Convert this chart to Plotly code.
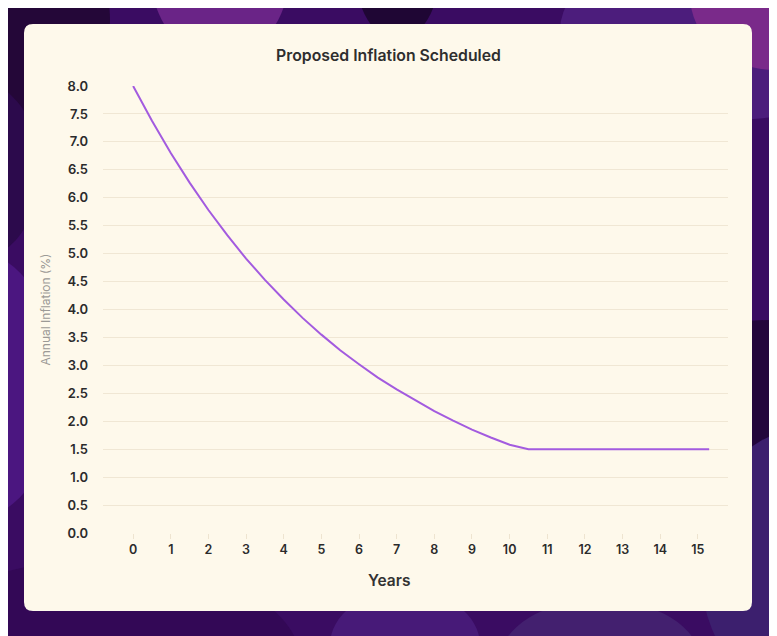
import plotly.graph_objects as go

# years since launch and annual inflation (%)
years = [0, 0.5, 1, 1.5, 2, 2.5, 3, 3.5, 4, 4.5, 5, 5.5, 6, 6.5, 7, 7.5,
         8, 8.5, 9, 9.5, 10, 10.5, 11, 12, 13, 14, 15, 15.3]
inflation = [8.0, 7.38, 6.80, 6.27, 5.78, 5.33, 4.91, 4.53, 4.18, 3.85, 3.55,
             3.27, 3.02, 2.78, 2.57, 2.37, 2.18, 2.01, 1.85, 1.71, 1.58, 1.50,
             1.50, 1.50, 1.50, 1.50, 1.50, 1.50]
x_ticks = list(range(0, 16))
y_ticks = [0, 0.5, 1, 1.5, 2, 2.5, 3, 3.5, 4, 4.5, 5, 5.5, 6, 6.5, 7, 7.5, 8]

W, H = 777, 636
OFF = 8  # page margin the figure sits inside
L, R, T, B = 103 - OFF, 728 - OFF, 86 - OFF, 533 - OFF  # plot area, px


def px(x):
    return (x - OFF - L) / (R - L)


def py(y):
    return (B - (y - OFF)) / (B - T)


def rounded(x0, y0, x1, y1, r):
    # rounded rectangle path in paper coords (screen px in)
    a, b, c, d = px(x0), px(x1), py(y0), py(y1)
    rx, ry = px(x0 + r) - a, py(y0) - py(y0 + r)
    return (f"M {a+rx},{c} L {b-rx},{c} Q {b},{c} {b},{c-ry} "
            f"L {b},{d+ry} Q {b},{d} {b-rx},{d} L {a+rx},{d} "
            f"Q {a},{d} {a},{d+ry} L {a},{c-ry} Q {a},{c} {a+rx},{c} Z")


shapes = []
# background blobs
blobs = [
    (-60, -80, 110, 120, "#240738"),
    (150, -120, 290, 60, "#6a2487"),
    (355, -100, 440, 40, "#1f0634"),
    (560, -60, 900, 120, "#4c1d7c"),
    (690, -80, 860, 70, "#7a2a8a"),
    (-120, 250, 60, 520, "#4b1680"),
    (-90, 80, 40, 260, "#2c0a4c"),
    (640, 320, 900, 480, "#23063c"),
    (700, 430, 900, 700, "#3c1f6e"),
    (-100, 560, 300, 760, "#330856"),
    (330, 590, 480, 700, "#471a78"),
    (500, 600, 700, 720, "#43206f"),
]
for x0, y0, x1, y1, col in blobs:
    shapes.append(dict(type="circle", xref="paper", yref="paper",
                       x0=px(x0), x1=px(x1), y0=py(y1), y1=py(y0),
                       fillcolor=col, line_width=0, layer="below"))
# cream card
shapes.append(dict(type="path", xref="paper", yref="paper",
                   path=rounded(24, 24, 752, 611, 9),
                   fillcolor="#fef9eb", line_width=0, layer="below"))

fig = go.Figure()
fig.add_trace(go.Scatter(x=years, y=inflation, mode="lines",
                         line=dict(color="#a35bdf", width=2),
                         hoverinfo="skip", showlegend=False))

fig.add_annotation(text="Years", xref="paper", yref="paper",
                   x=px(388.5), y=py(580), xanchor="center", yanchor="middle",
                   showarrow=False,
                   font=dict(family="Inter", size=15.5, color="#333333", weight=600))

fig.update_layout(
    width=W, height=H,
    margin=dict(l=L, r=W - R, t=T, b=H - B),
    paper_bgcolor="#3a0c62",
    plot_bgcolor="rgba(0,0,0,0)",
    shapes=shapes,
    title=dict(text="Proposed Inflation Scheduled", x=px(388.5),
               xref="paper", xanchor="center",
               y=1 - (55 - OFF) / H, yanchor="middle",
               font=dict(family="Inter", size=15.8, color="#2e2e2e", weight=600)),
    font=dict(family="Inter", color="#2b2b2b"),
)
fig.update_xaxes(range=[-0.8, 15.8], tickvals=x_ticks, showgrid=False,
                 zeroline=False, showline=False,
                 ticks="outside", ticklen=5, tickcolor="#eee4d0",
                 tickfont=dict(size=12.5, color="#2b2b2b", weight=600))
fig.update_yaxes(range=[0, 8], tickvals=y_ticks, tickformat=".1f",
                 showgrid=True, gridcolor="#f0e7d4", gridwidth=1,
                 zeroline=False, showline=False, ticks="",
                 ticklabelstandoff=14,
                 tickfont=dict(size=13, color="#2b2b2b", weight=600),
                 title=dict(text="Annual Inflation (%)", standoff=14,
                            font=dict(size=12, color="#9c9a96")))

fig.write_html("out.html")
